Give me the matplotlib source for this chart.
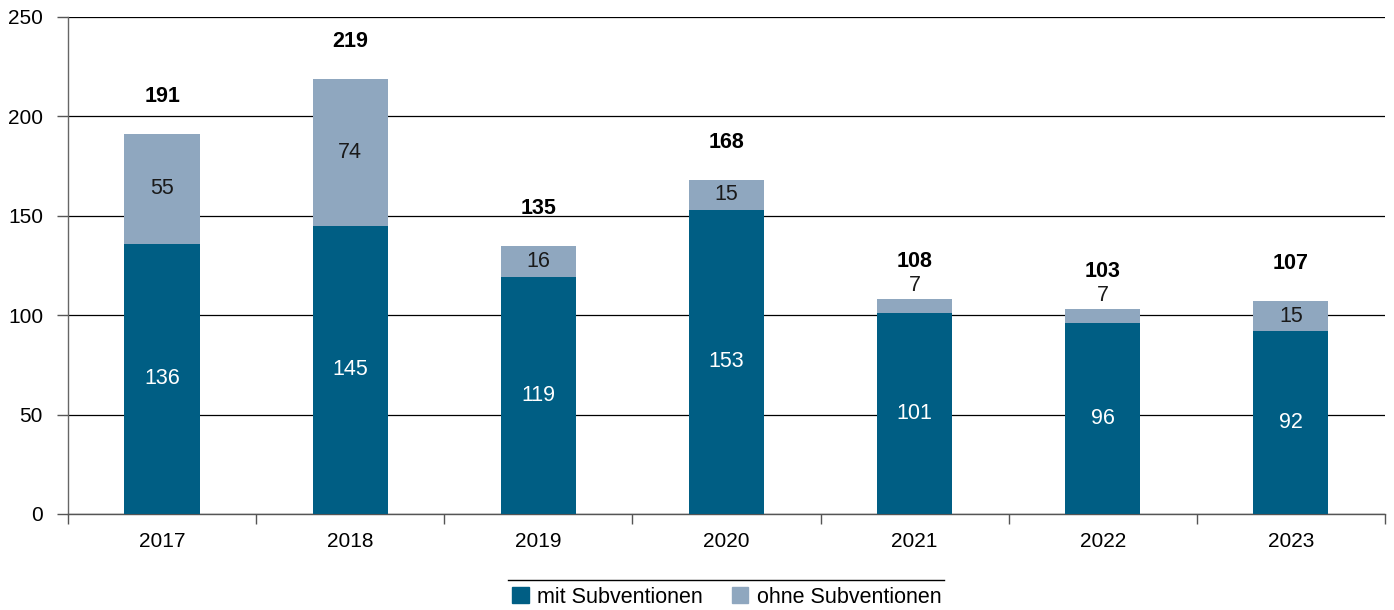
import matplotlib
matplotlib.use('Agg')
import numpy as np
from matplotlib import pyplot as plt
from matplotlib.lines import Line2D
from matplotlib.patches import Patch

years = ['2017', '2018', '2019', '2020', '2021', '2022', '2023']
mit = [136, 145, 119, 153, 101, 96, 92]
ohne = [55, 74, 16, 15, 7, 7, 15]
totals = [191, 219, 135, 168, 108, 103, 107]

dark = '#005e84'
light = '#8fa7bf'

plt.rcParams['font.family'] = ['Liberation Sans', 'DejaVu Sans']
plt.rcParams['font.size'] = 15

fig = plt.figure(figsize=(13.94, 6.10), dpi=100)
ax = fig.add_axes([0.0488, 0.1574, 0.9447, 0.8148])

x = np.arange(len(years))
w = 0.40
ax.bar(x, mit, w, color=dark, zorder=3)
ax.bar(x, ohne, w, bottom=mit, color=light, zorder=3)

for i in range(len(years)):
    ax.text(x[i], mit[i] / 2, str(mit[i]), ha='center', va='center',
            color='white', fontsize=15.5, zorder=4)
    top = mit[i] + ohne[i]
    if ohne[i] >= 12:
        ax.text(x[i], mit[i] + ohne[i] / 2, str(ohne[i]), ha='center',
                va='center', color='#1a1a1a', fontsize=15.5, zorder=4)
    else:
        # small segment: put the number just above the bar
        ax.annotate(str(ohne[i]), (x[i], top), xytext=(0, 2),
                    textcoords='offset points', ha='center', va='bottom',
                    color='#1a1a1a', fontsize=15.5)
    ax.annotate(str(totals[i]), (x[i], top), xytext=(0, 27),
                textcoords='offset points', ha='center', va='center',
                fontweight='bold', fontsize=15.5, color='black')

ax.set_ylim(0, 250)
ax.set_yticks(np.arange(0, 251, 50))
ax.yaxis.grid(True, color='black', linewidth=0.9, zorder=0)
ax.set_xlim(-0.5, len(years) - 0.5)
ax.set_xticks(np.arange(-0.5, len(years), 1.0))
ax.set_xticklabels([])
ax.set_xticks(x, minor=True)
ax.set_xticklabels(years, minor=True)
ax.tick_params(axis='x', which='minor', length=0, pad=13)
ax.tick_params(axis='x', which='major', length=7, color='#555555', width=1)
ax.tick_params(axis='y', length=8, color='#555555', width=1, pad=10)

for s in ['top', 'right']:
    ax.spines[s].set_visible(False)
ax.spines['left'].set_color('#666666')
ax.spines['bottom'].set_color('#555555')
ax.spines['left'].set_linewidth(1)
ax.spines['bottom'].set_linewidth(1)

handles = [Patch(color=dark, label='mit Subventionen'),
           Patch(color=light, label='ohne Subventionen')]
fig.legend(handles=handles, loc='center', bbox_to_anchor=(0.5215, 0.021),
           ncol=2, frameon=False, handlelength=0.75, handleheight=0.75,
           handletextpad=0.4, columnspacing=1.35, fontsize=15.5)
fig.add_artist(Line2D([508 / 1394, 944 / 1394], [1 - 580 / 610, 1 - 580 / 610],
                      color='black', linewidth=1, transform=fig.transFigure))

plt.savefig('out.png', dpi=100)
